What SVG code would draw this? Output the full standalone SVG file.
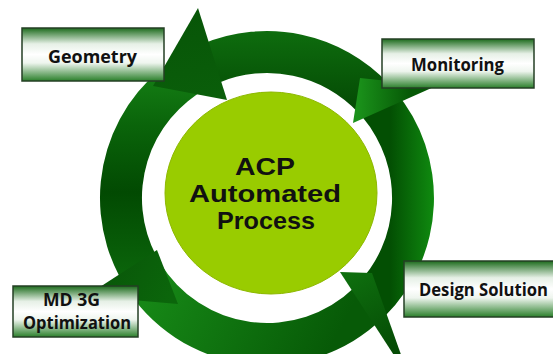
<svg xmlns="http://www.w3.org/2000/svg" width="553" height="354" viewBox="0 0 553 354">
<defs>
<linearGradient id="gA" gradientUnits="userSpaceOnUse" x1="0" y1="30" x2="0" y2="118"><stop offset="0" stop-color="#0e6d0e"/><stop offset="1" stop-color="#034603"/></linearGradient>
<linearGradient id="gB" gradientUnits="userSpaceOnUse" x1="0" y1="60" x2="0" y2="280"><stop offset="0" stop-color="#178517"/><stop offset="0.3" stop-color="#0a640a"/><stop offset="0.6" stop-color="#024a02"/><stop offset="1" stop-color="#0b660b"/></linearGradient>
<linearGradient id="gC" gradientUnits="userSpaceOnUse" x1="165" y1="265" x2="330" y2="350"><stop offset="0" stop-color="#168716"/><stop offset="1" stop-color="#075a07"/></linearGradient>
<linearGradient id="gD" gradientUnits="userSpaceOnUse" x1="390" y1="0" x2="435" y2="0"><stop offset="0" stop-color="#034f03"/><stop offset="1" stop-color="#108c10"/></linearGradient>
<linearGradient id="hG" gradientUnits="userSpaceOnUse" x1="180" y1="10" x2="200" y2="100"><stop offset="0" stop-color="#075507"/><stop offset="1" stop-color="#0a5e0a"/></linearGradient>
<linearGradient id="hM" gradientUnits="userSpaceOnUse" x1="358" y1="0" x2="410" y2="0"><stop offset="0" stop-color="#1a911a"/><stop offset="1" stop-color="#065806"/></linearGradient>
<linearGradient id="hD" gradientUnits="userSpaceOnUse" x1="350" y1="275" x2="390" y2="350"><stop offset="0" stop-color="#0e6e0e"/><stop offset="1" stop-color="#054c05"/></linearGradient>
<linearGradient id="hMD" gradientUnits="userSpaceOnUse" x1="110" y1="270" x2="170" y2="300"><stop offset="0" stop-color="#095809"/><stop offset="1" stop-color="#0b660b"/></linearGradient>
<linearGradient id="box" x1="0" y1="0" x2="0" y2="1"><stop offset="0" stop-color="#1c6b1c"/><stop offset="0.3" stop-color="#e6f0e6"/><stop offset="0.5" stop-color="#ffffff"/><stop offset="0.66" stop-color="#eef5ee"/><stop offset="1" stop-color="#2a7f2a"/></linearGradient>
<style>
.box{fill:url(#box);stroke:#243f24;stroke-width:1.5}
.lbl{font-family:"Open Sans",Lato,"DejaVu Sans",sans-serif;font-weight:700;font-size:17px;fill:#111}
.ctr{font-family:"Liberation Sans",Arial,sans-serif;font-weight:700;font-size:24px;fill:#111;text-anchor:middle}
</style>
</defs>
<rect width="553" height="354" fill="#ffffff"/>
<g id="connectors">
<path d="M389.1,84.1 A167,167 0 0 0 201.8,44.3 L218.2,82.9 A125,125 0 0 1 358.4,112.7 Z" fill="url(#gA)"/>
<path d="M188.6,50.6 A167,167 0 0 0 119.5,276.4 L156.6,256.7 A125,125 0 0 1 208.3,87.6 Z" fill="url(#gB)"/>
<path d="M123.8,284 A167,167 0 0 0 383,318.1 L353.8,287.9 A125,125 0 0 1 159.9,262.4 Z" fill="url(#gC)"/>
<path d="M385.1,316.1 A167,167 0 0 0 394.9,90.7 L362.8,117.6 A125,125 0 0 1 355.4,286.4 Z" fill="url(#gD)"/>
<polygon points="198,8 153,86 227,100" fill="url(#hG)"/>
<polygon points="436,86 360,78 353,123" fill="url(#hM)"/>
<polygon points="410,380 372,273 340,272" fill="url(#hD)"/>
<polygon points="86,296 157,250 178,304" fill="url(#hMD)"/>
</g>
<g id="center">
<ellipse cx="271" cy="193" rx="106" ry="101" fill="#99cc00" stroke="#8db800" stroke-width="1"/>
<text class="ctr"><tspan x="265" y="175" textLength="60" lengthAdjust="spacingAndGlyphs">ACP</tspan><tspan x="265" y="202" textLength="152" lengthAdjust="spacingAndGlyphs">Automated</tspan><tspan x="266" y="229" textLength="98" lengthAdjust="spacingAndGlyphs">Process</tspan></text>
</g>
<g id="geometry">
<rect class="box" x="22" y="28" width="142" height="53"/>
<text class="lbl" x="48" y="63" textLength="89" lengthAdjust="spacingAndGlyphs">Geometry</text>
</g>
<g id="monitoring">
<rect class="box" x="382" y="39" width="152" height="49"/>
<text class="lbl" x="411" y="71" textLength="93" lengthAdjust="spacingAndGlyphs">Monitoring</text>
</g>
<g id="design-solution">
<rect class="box" x="404" y="261" width="160" height="56"/>
<text class="lbl" x="419" y="296" textLength="129" lengthAdjust="spacingAndGlyphs">Design Solution</text>
</g>
<g id="md3g">
<rect class="box" x="13" y="286" width="125" height="51"/>
<text class="lbl"><tspan x="43" y="305.5" textLength="57" lengthAdjust="spacingAndGlyphs">MD 3G</tspan><tspan x="23" y="329" textLength="108" lengthAdjust="spacingAndGlyphs">Optimization</tspan></text>
</g>
</svg>
